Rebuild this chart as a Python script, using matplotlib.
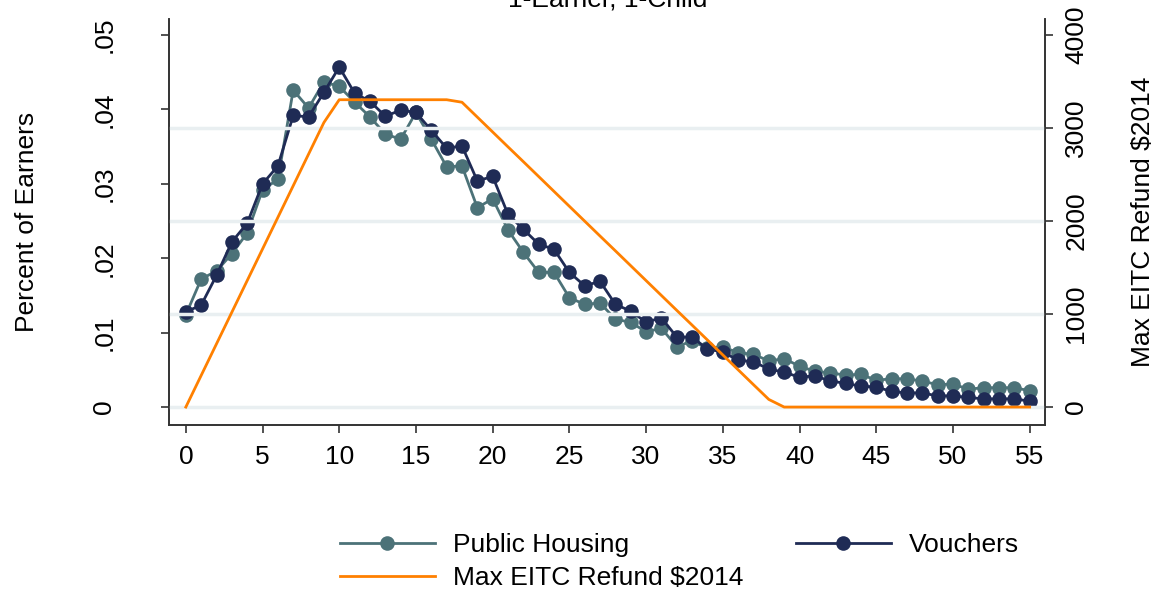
import matplotlib
matplotlib.use("Agg")
import matplotlib.pyplot as plt
from matplotlib.lines import Line2D

plt.rcParams['font.family'] = ['Liberation Sans', 'DejaVu Sans']

# earnings (thousands)
earnings = list(range(56))

public_housing = [
    .0124, .0172, .0183, .0206, .0234, .0292, .0306, .0426, .0402, .0437,
    .0431, .0410, .0390, .0367, .0360, .0396, .0360, .0323, .0324, .0268,
    .0280, .0238, .0208, .0181, .0181, .0147, .0138, .0140, .0118, .0114,
    .0101, .0106, .0081, .0089, .0079, .0081, .0073, .0071, .0062, .0065,
    .0055, .0048, .0046, .0043, .0044, .0036, .0038, .0038, .0035, .0030,
    .0031, .0024, .0026, .0026, .0026, .0022,
]

vouchers = [
    .0128, .0137, .0177, .0222, .0247, .0300, .0324, .0392, .0390, .0423,
    .0457, .0422, .0411, .0391, .0399, .0396, .0372, .0348, .0351, .0304,
    .0310, .0259, .0239, .0219, .0212, .0181, .0163, .0169, .0138, .0129,
    .0114, .0120, .0094, .0094, .0078, .0074, .0063, .0061, .0051, .0047,
    .0040, .0042, .0035, .0032, .0028, .0027, .0021, .0019, .0019, .0015,
    .0015, .0013, .0011, .0011, .0011, .0008,
]

max_eitc = [
    0, 340, 680, 1020, 1360, 1700, 2040, 2380, 2720, 3060,
    3305, 3305, 3305, 3305, 3305, 3305, 3305, 3305, 3278, 3118,
    2958, 2798, 2639, 2479, 2319, 2159, 1999, 1839, 1680, 1520,
    1360, 1200, 1040, 881, 721, 561, 401, 241, 82, 0,
    0, 0, 0, 0, 0, 0, 0, 0, 0, 0,
    0, 0, 0, 0, 0, 0,
]

left_ticks = [0, .01, .02, .03, .04, .05]
left_labels = ['0', '.01', '.02', '.03', '.04', '.05']
right_ticks = [0, 1000, 2000, 3000, 4000]
grid_ticks = [0, 1000, 2000, 3000]
x_ticks = list(range(0, 56, 5))

teal = '#4c7278'
navy = '#1f2b55'
orange = '#ff8000'
grid_col = '#e9eff1'
fs = 19

fig = plt.figure(figsize=(11.58, 5.97), dpi=100)
ax = fig.add_axes([0.1459, 0.288, 0.9024 - 0.1459, 0.968 - 0.288])
ax2 = ax.twinx()

for v in grid_ticks:
    ax2.axhline(v, color=grid_col, lw=2.5, zorder=0)

ax.plot(earnings, public_housing, color=teal, lw=2, marker='o', ms=10.5,
        markeredgewidth=0, zorder=3)
ax.plot(earnings, vouchers, color=navy, lw=2, marker='o', ms=10.5,
        markeredgewidth=0, zorder=4)
ax2.plot(earnings, max_eitc, color=orange, lw=2, zorder=5)

ax.set_xlim(-1.1, 56.0)
ax.set_ylim(-0.00242, 0.05215)
ax2.set_ylim(-193.5, 4172)

ax.set_xticks(x_ticks)
ax.set_yticks(left_ticks)
ax.set_yticklabels(left_labels, rotation=90, va='center')
ax2.set_yticks(right_ticks)
ax2.set_yticklabels([str(v) for v in right_ticks], rotation=90, va='center')

for a in (ax, ax2):
    a.spines['top'].set_visible(False)
    for s in a.spines.values():
        s.set_color('#333333')
        s.set_linewidth(1.2)
    a.tick_params(labelsize=fs, length=6, width=1.2, color='#333333', pad=8)
ax.tick_params(axis='y', pad=32)

ax.set_ylabel('Percent of Earners', fontsize=fs, labelpad=38)
ax2.set_ylabel('Max EITC Refund $2014', fontsize=fs, labelpad=31)

fig.text(608 / 1158, 1 - 7 / 597, '1-Earner, 1-Child', fontsize=fs,
         ha='center', va='baseline')

h_ph = Line2D([], [], color=teal, lw=2, marker='o', ms=10.5, markeredgewidth=0)
h_v = Line2D([], [], color=navy, lw=2, marker='o', ms=10.5, markeredgewidth=0)
h_e = Line2D([], [], color=orange, lw=2)
fig.legend([h_ph, h_e, h_v],
           ['Public Housing', 'Max EITC Refund $2014', 'Vouchers'],
           ncol=2, frameon=False, fontsize=fs, handlelength=3.6,
           handletextpad=0.68, columnspacing=2.0, labelspacing=0.35,
           loc='upper left', bbox_to_anchor=(316 / 1158, 1 - 509 / 597))

fig.savefig('out.png', dpi=100)
